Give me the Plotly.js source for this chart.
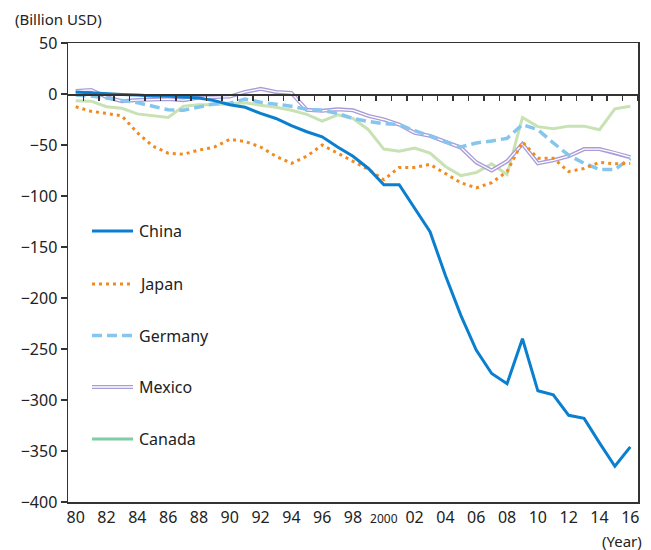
<!DOCTYPE html>
<html>
<head>
<meta charset="utf-8">
<script src="https://cdn.plot.ly/plotly-3.0.1.min.js"></script>
<style>html,body{margin:0;padding:0;background:#fff;}#chart{width:651px;height:550px;}</style>
</head>
<body>
<div id="chart"></div>
<script>
const years = [1980,1981,1982,1983,1984,1985,1986,1987,1988,1989,1990,1991,1992,1993,1994,1995,1996,1997,1998,1999,2000,2001,2002,2003,2004,2005,2006,2007,2008,2009,2010,2011,2012,2013,2014,2015,2016];
const china = [2,1,0,-0.5,-1,-2,-2,-3,-4,-6.5,-10.5,-13,-19,-24,-31,-37,-42,-52,-61,-73,-89,-89,-112,-135,-178,-217,-251,-274,-284,-240,-291,-295,-315,-318,-342,-365,-346];
const japan = [-12.5,-17,-19,-21.5,-38,-51,-58,-59,-55,-52,-44.5,-46.5,-52,-61,-68,-61,-50,-58,-66,-74,-84,-72,-72,-69,-78,-87,-92,-87,-76,-47,-63,-63,-76,-73,-67,-68.5,-68];
const germany = [-1,-2,-4,-6,-8.5,-12,-15.5,-16,-13,-9.5,-9,-5,-8,-10,-12,-15,-16,-19,-24,-27,-29,-30,-36,-41,-47,-52,-48,-46,-43.5,-30,-35,-48,-60,-68,-74,-74,-63];
const mexico = [3,4,-3,-7,-6,-5.5,-5,-6,-3.5,-3,-2.5,2,5,2,1,-15.5,-16.5,-15,-16,-21.5,-25,-30,-38,-41,-47,-52.5,-67,-75,-66,-49,-68,-65,-61,-54,-54,-57.5,-62];
const canada = [-6.5,-7,-12.5,-14,-19.5,-21.5,-23,-12,-10.5,-10.5,-9.5,-8.5,-11,-13,-16,-20,-26.5,-20.5,-24,-35,-54,-56,-53,-58,-71,-80,-77,-68.5,-79,-23,-32,-34,-31.5,-31.5,-35,-14.5,-12];
const tickYears = [1980,1982,1984,1986,1988,1990,1992,1994,1996,1998,2000,2002,2004,2006,2008,2010,2012,2014,2016];
const tickLabels = ['80','82','84','86','88','90','92','94','96','98','<span style="font-size:12px">2000</span>','02','04','06','08','10','12','14','16'];
const yTicks = [50,0,-50,-100,-150,-200,-250,-300,-350,-400];
const legendNames = ['China','Japan','Germany','Mexico','Canada'];

const C_CHINA = '#0b7fcf', C_JAPAN = '#f28a1e', C_GER = '#86c6ee', C_MEX = '#a99cd8', C_CAN = '#c8e2b4', C_CAN_LEG = '#80cca3';

const traces = [
  {x: years, y: canada, type:'scatter', mode:'lines', name:'Canada', line:{color:C_CAN, width:3}},
  {x: years, y: mexico, type:'scatter', mode:'lines', name:'Mexico', line:{color:C_MEX, width:4}},
  {x: years, y: mexico, type:'scatter', mode:'lines', name:'Mexico_inner', line:{color:'#ffffff', width:1.3}},
  {x: years, y: germany, type:'scatter', mode:'lines', name:'Germany', line:{color:C_GER, width:3.5, dash:'10px,5px'}},
  {x: years, y: japan, type:'scatter', mode:'lines', name:'Japan', line:{color:C_JAPAN, width:3, dash:'3px,4px'}},
  {x: years, y: china, type:'scatter', mode:'lines', name:'China', xaxis:'x2', line:{color:C_CHINA, width:3}}
];

// custom legend
const L = 68, R = 638, T = 43, B = 502;
const px2x = p => (p - L) / (R - L);
const px2y = p => (B - p) / (B - T);
const legY = [231, 284, 335.5, 387, 439];
const shapes = [];
const annotations = [];
legendNames.forEach((n, i) => {
  const y = px2y(legY[i]);
  const base = {type:'line', xref:'paper', yref:'paper', x0:px2x(92), x1:px2x(133), y0:y, y1:y};
  if (n === 'China') shapes.push(Object.assign({}, base, {line:{color:C_CHINA, width:3}}));
  if (n === 'Japan') shapes.push(Object.assign({}, base, {line:{color:C_JAPAN, width:3, dash:'3px,4px'}}));
  if (n === 'Germany') shapes.push(Object.assign({}, base, {line:{color:C_GER, width:3.5, dash:'10px,5px'}}));
  if (n === 'Mexico') {
    const d = 1.4 / (B - T);
    shapes.push(Object.assign({}, base, {y0:y+d, y1:y+d, line:{color:C_MEX, width:1.2}}));
    shapes.push(Object.assign({}, base, {y0:y-d, y1:y-d, line:{color:C_MEX, width:1.2}}));
  }
  if (n === 'Canada') shapes.push(Object.assign({}, base, {line:{color:C_CAN_LEG, width:3}}));
  annotations.push({xref:'paper', yref:'paper', x:px2x(137), y:y, text:n, showarrow:false, xanchor:'left', yanchor:'middle', font:{size:16, color:'#222'}});
});
annotations.push({xref:'paper', yref:'paper', x:px2x(13), y:px2y(19), text:'(Billion USD)', showarrow:false, xanchor:'left', yanchor:'middle', font:{size:15, color:'#222'}});
annotations.push({xref:'paper', yref:'paper', x:px2x(644), y:px2y(541), text:'(Year)', showarrow:false, xanchor:'right', yanchor:'middle', font:{size:15, color:'#222'}});

const layout = {
  width: 651, height: 550,
  margin: {l: L, r: 651 - R, t: T, b: 550 - B},
  paper_bgcolor: '#fff', plot_bgcolor: '#fff',
  showlegend: false,
  font: {family: 'Noto Sans, sans-serif', size: 16, color: '#222'},
  // main x axis: sits on the zero line, carries the small tick marks between years
  xaxis: {
    type: 'linear', range: [1979.5, 2016.5], anchor: 'free', position: 400/450, side: 'bottom',
    tickmode: 'array', tickvals: years.map(v => v + 0.5),
    ticks: 'outside', ticklen: 5, tickwidth: 1.5, tickcolor: '#333',
    showticklabels: false, showgrid: false, zeroline: false, showline: true, linecolor: '#333', linewidth: 1.5
  },
  // overlay x axis: bottom frame with year labels
  xaxis2: {
    type: 'linear', overlaying: 'x', range: [1979.5, 2016.5], anchor: 'y', side: 'bottom',
    tickmode: 'array', tickvals: tickYears, ticktext: tickLabels,
    ticks: '', showgrid: false, zeroline: false, showline: true, mirror: true, linecolor: '#333', linewidth: 1.5,
    tickfont: {size: 16, color: '#222'}
  },
  yaxis: {
    range: [-400, 50], tickmode: 'array', tickvals: yTicks, ticks: 'outside', ticklen: 6, tickwidth: 1.5, tickcolor: '#333',
    showgrid: false, zeroline: false, showline: true, mirror: true, linecolor: '#333', linewidth: 1.5,
    tickfont: {size: 16, color: '#222'}
  },
  shapes: shapes,
  annotations: annotations
};

Plotly.newPlot('chart', traces, layout, {displayModeBar: false, staticPlot: true});
</script>
</body>
</html>
